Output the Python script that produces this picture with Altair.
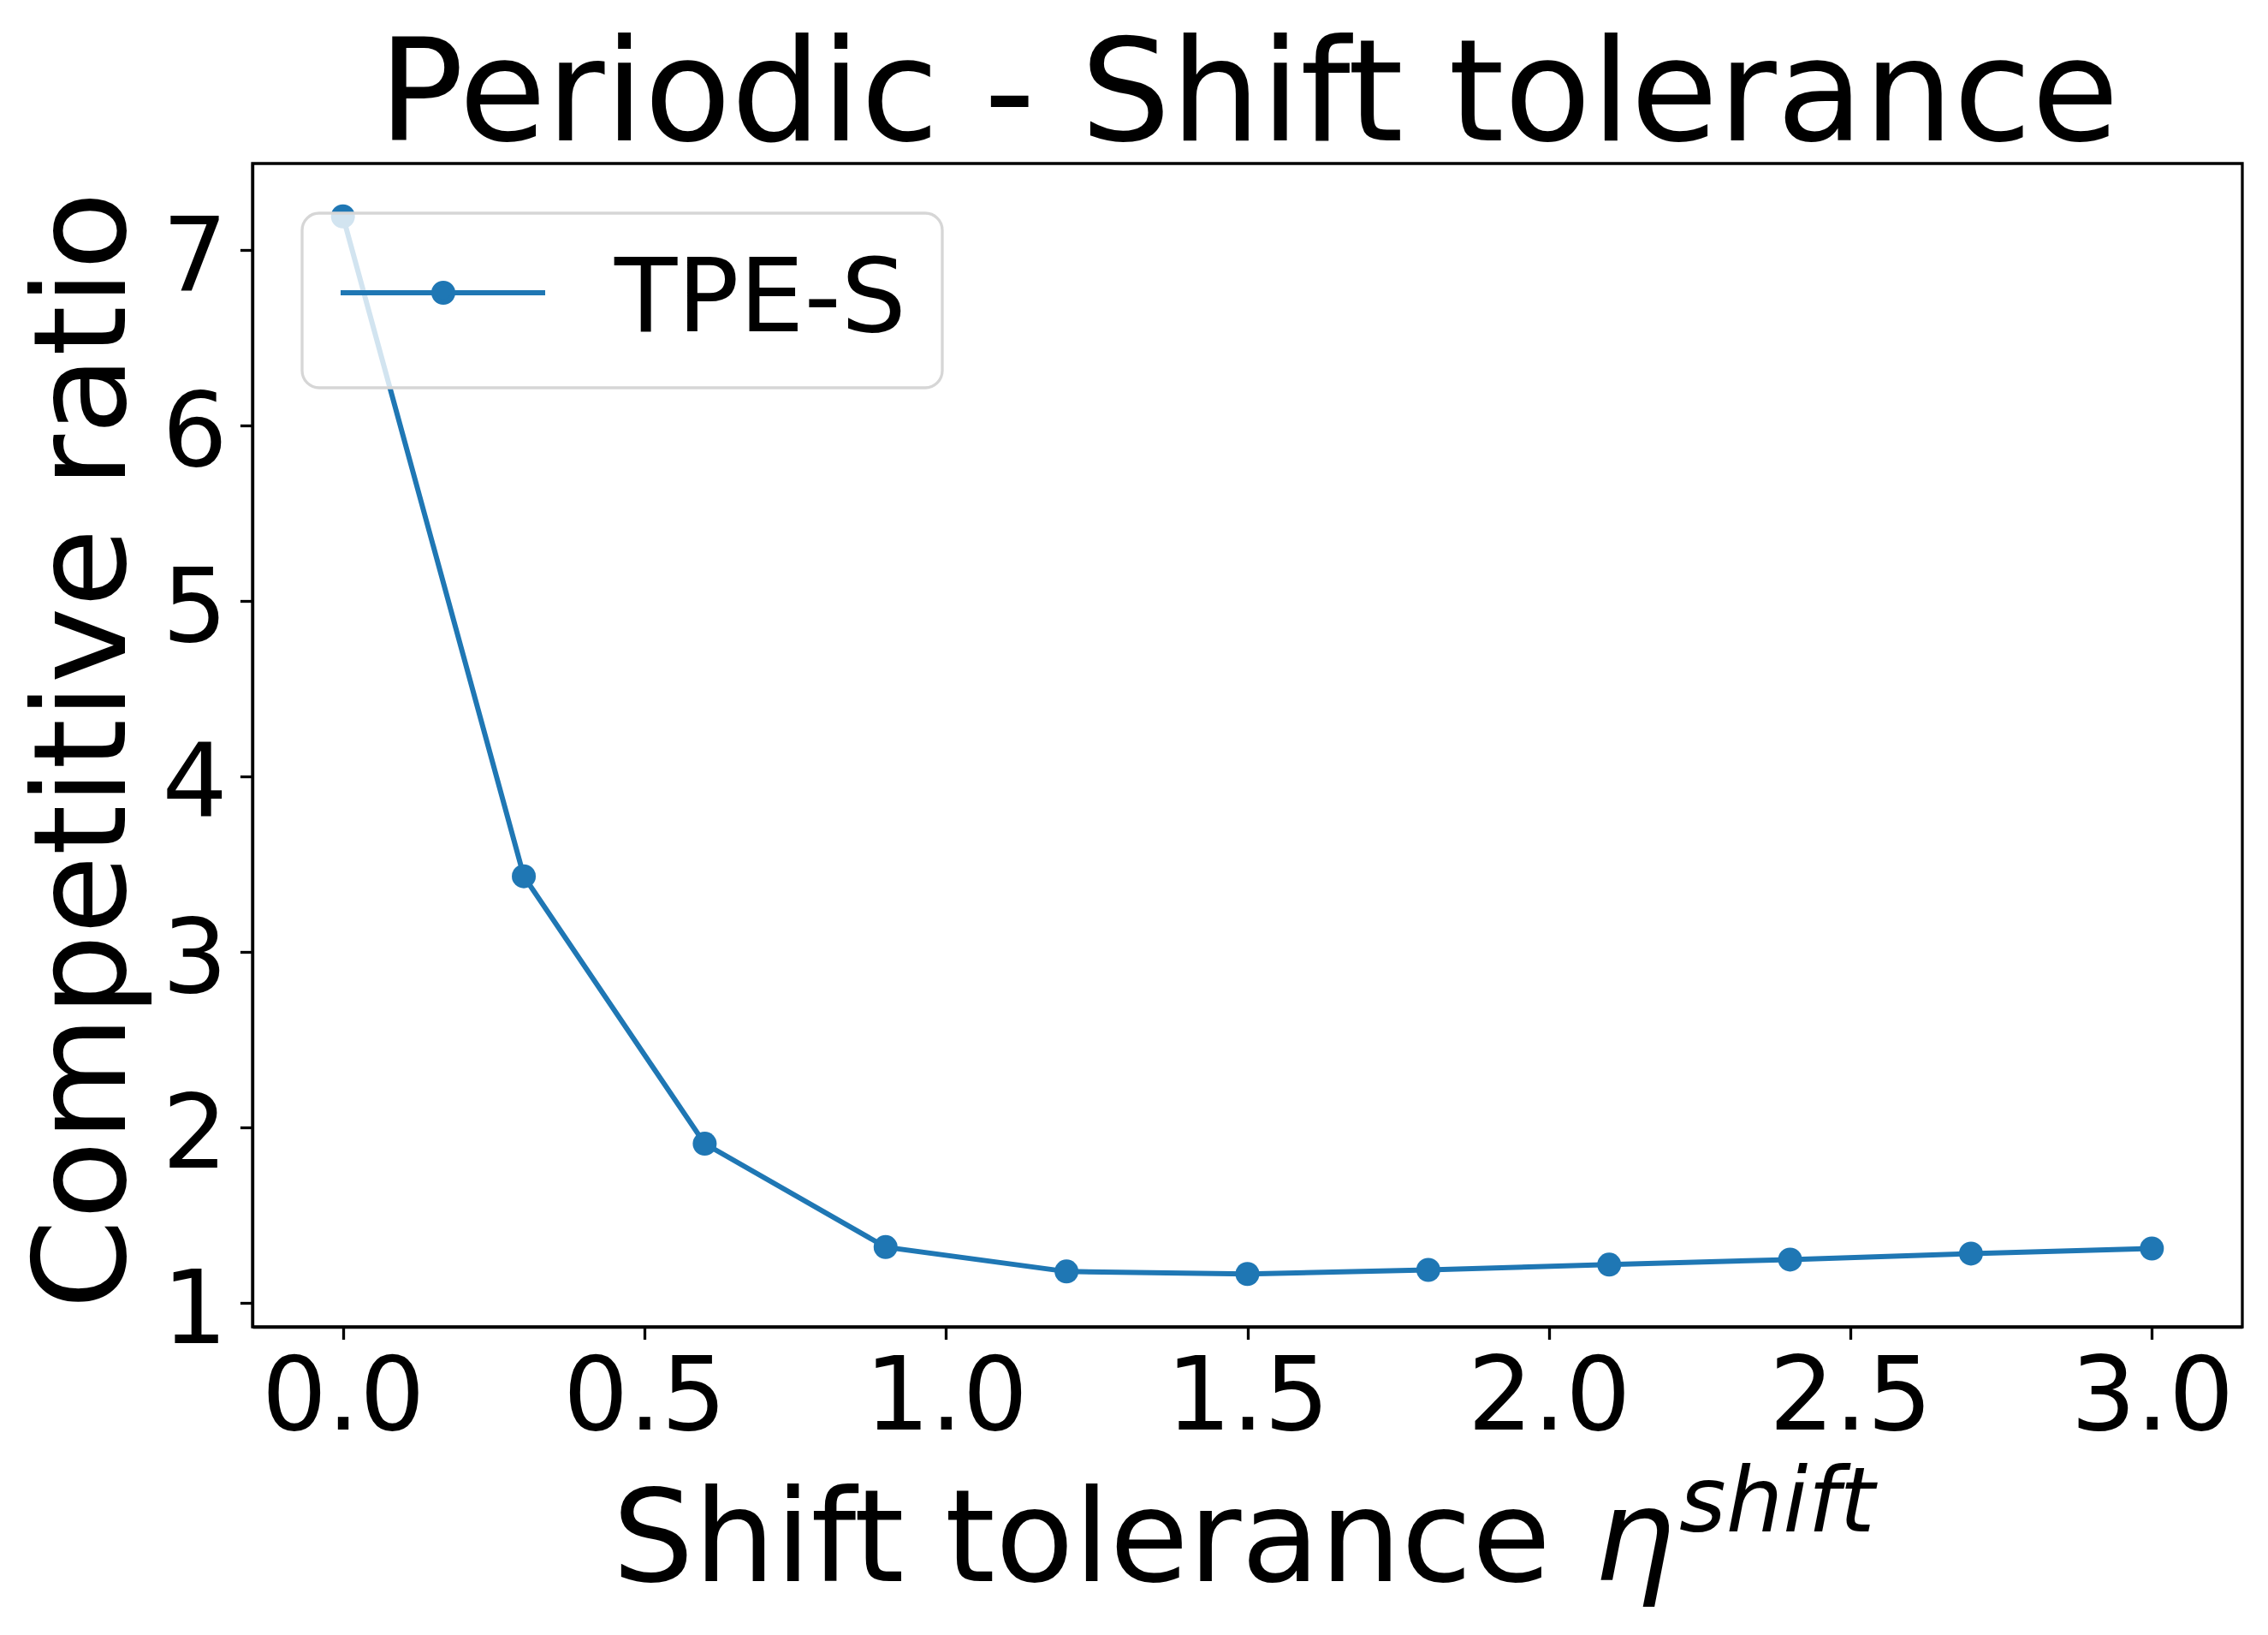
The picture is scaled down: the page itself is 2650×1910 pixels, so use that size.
import altair as alt
import pandas as pd

# ---- data ----
eta = [0.0, 0.3, 0.6, 0.9, 1.2, 1.5, 1.8, 2.1, 2.4, 2.7, 3.0]
ratio = [7.19, 3.43, 1.906, 1.317, 1.178, 1.164, 1.187, 1.217, 1.246, 1.280, 1.309]
series = ["TPE-S"] * len(eta)
x_ticks = [0.0, 0.5, 1.0, 1.5, 2.0, 2.5, 3.0]
y_ticks = [1, 2, 3, 4, 5, 6, 7]
title_text = ["Periodic - Shift tolerance"]
y_title = "Competitive ratio"
x_title_main = "Shift tolerance"
x_title_sym = ["η"]
x_title_sup = ["shift"]

df = pd.DataFrame({"eta": eta, "ratio": ratio, "series": series})

BLUE = "#1f77b4"
FONT = "DejaVu Sans"

# matplotlib-like 5% margins
r = max(ratio) - min(ratio)
y_dom = [min(ratio) - 0.05 * r, max(ratio) + 0.05 * r]
xr = max(eta) - min(eta)
x_dom = [min(eta) - 0.05 * xr, max(eta) + 0.05 * xr]

x_enc = alt.X(
    "eta:Q",
    scale=alt.Scale(domain=x_dom, nice=False, zero=False),
    axis=alt.Axis(
        values=x_ticks, format=".1f", title=x_title_main,
        titleX=420, titleY=296, titleAlign="left", titleBaseline="alphabetic",
        titleAngle=0, titleFontSize=150, titleFont=FONT, titleFontWeight="normal",
        titleColor="black", titleLimit=3000,
        labelFontSize=120, labelFont=FONT, labelColor="black", labelPadding=10,
        labelLimit=1000, labelFlush=False, labelOverlap=False, tickSize=14.6,
        grid=False, domainColor="black", domainWidth=3.3, tickColor="black",
        tickWidth=3.3,
    ),
)
y_enc = alt.Y(
    "ratio:Q",
    scale=alt.Scale(domain=y_dom, nice=False, zero=False),
    axis=alt.Axis(
        values=y_ticks, format="d", title=y_title,
        titleX=-150, titleY=685, titleAngle=270, titleAlign="center",
        titleBaseline="alphabetic", titleFontSize=150, titleFont=FONT,
        titleFontWeight="normal", titleColor="black", titleLimit=3000,
        labelFontSize=120, labelFont=FONT, labelColor="black", labelPadding=15,
        labelOffset=11, labelLimit=1000, labelFlush=False, labelOverlap=False,
        tickSize=14.6, grid=False, domainColor="black", domainWidth=3.3,
        tickColor="black", tickWidth=3.3,
    ),
)

LEGEND_PATH = ("M-1.9,-0.3H6.067"
               "M1.733,-0.3A0.367,0.367,0,1,1,2.467,-0.3"
               "A0.367,0.367,0,1,1,1.733,-0.3Z")

line = alt.Chart(df).mark_line(color=BLUE, strokeWidth=6).encode(x=x_enc, y=y_enc)

points = alt.Chart(df).mark_point(filled=True, size=784, opacity=1).encode(
    x=x_enc,
    y=y_enc,
    color=alt.Color(
        "series:N",
        scale=alt.Scale(domain=["TPE-S"], range=[BLUE]),
        legend=alt.Legend(
            title=None, orient="none", legendX=58, legendY=58,
            symbolType=LEGEND_PATH, symbolSize=3600,
            symbolFillColor=BLUE, symbolStrokeColor=BLUE, symbolStrokeWidth=6,
            symbolOpacity=1,
            labelFontSize=120, labelFont=FONT, labelColor="black", labelOffset=203,
            labelLimit=1000,
            padding=42, strokeColor="#d6d6d6",
            fillColor="rgba(255,255,255,0.8)", cornerRadius=20,
        ),
    ),
)

title_mark = alt.Chart(pd.DataFrame({"t": title_text})).mark_text(
    font=FONT, fontSize=166, align="center", baseline="alphabetic", color="black"
).encode(text="t:N", x=alt.value(1164), y=alt.value(-27))

eta_text = alt.Chart(pd.DataFrame({"t": x_title_sym})).mark_text(
    font=FONT, fontStyle="italic", fontSize=150, align="left",
    baseline="alphabetic", color="black"
).encode(text="t:N", x=alt.value(1567), y=alt.value(1655))

sup_text = alt.Chart(pd.DataFrame({"t": x_title_sup})).mark_text(
    font=FONT, fontStyle="italic", fontSize=105, align="left",
    baseline="alphabetic", color="black"
).encode(text="t:N", x=alt.value(1667), y=alt.value(1598))

chart = alt.layer(line, points, title_mark, eta_text, sup_text).properties(
    width=2325,
    height=1359,
    background="white",
    autosize=alt.AutoSizeParams(type="none"),
    padding={"left": 287, "top": 183, "right": 22, "bottom": 352},
).configure_view(
    stroke="black", strokeWidth=3.3
).configure_legend(
    strokeWidth=3.3
)

chart.save("out.html", embed_options={"renderer": "svg", "actions": False})
